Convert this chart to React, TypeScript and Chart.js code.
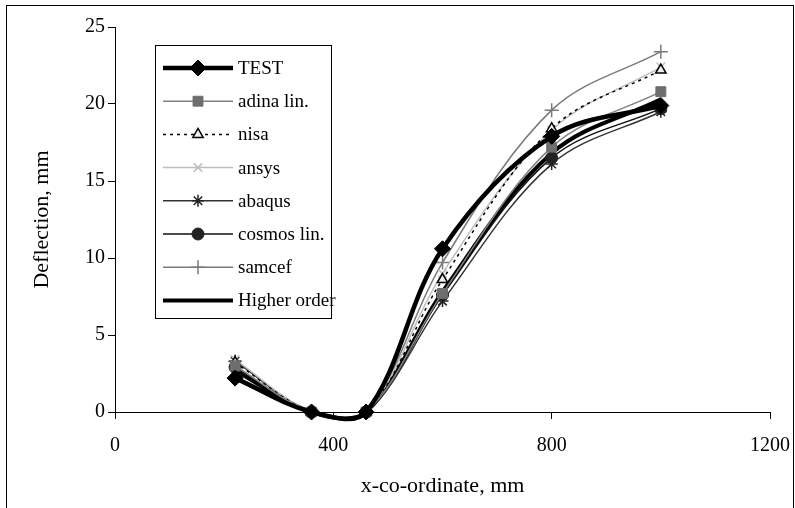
import React, { useEffect, useRef } from 'react';
import { Chart, registerables } from 'chart.js';
import { drawPoint } from 'chart.js/helpers';

Chart.register(...registerables);

// ---- data ----
const xPositions = [220, 360, 460, 600, 800, 1000];
const testValues = [2.2, 0, 0, 10.6, 17.9, 19.9];
const adinaValues = [3.0, 0, 0, 7.7, 17.2, 20.8];
const nisaValues = [3.2, 0, 0, 8.6, 18.4, 22.2];
const ansysValues = [3.4, 0, 0, 9.0, 18.3, 22.4];
const abaqusValues = [3.3, 0, 0, 7.2, 16.1, 19.5];
const cosmosValues = [2.9, 0, 0, 7.6, 16.5, 19.7];
const samcefValues = [3.3, 0, 0, 9.7, 19.6, 23.4];
const higherValues = [2.7, 0, 0, 7.8, 16.8, 20.3];

const seriesLabels = ['TEST', 'adina lin.', 'nisa', 'ansys', 'abaqus', 'cosmos lin.', 'samcef', 'Higher order'];
const seriesValues = [testValues, adinaValues, nisaValues, ansysValues, abaqusValues, cosmosValues, samcefValues, higherValues];

const xTickValues = [0, 400, 800, 1200];
const yTickValues = [0, 5, 10, 15, 20, 25];
const xTitle = 'x-co-ordinate, mm';
const yTitle = 'Deflection, mm';

const FONT = "'Liberation Serif', 'Times New Roman', serif";

// ---- styles ----
const seriesStyles: any[] = [
  { borderColor: '#000', borderWidth: 4.5, pointStyle: 'rectRot', pointRadius: 8, pointBackgroundColor: '#000', pointBorderColor: '#000', pointBorderWidth: 1 },
  { borderColor: '#808080', borderWidth: 1.5, pointStyle: 'rect', pointRadius: 7, pointBackgroundColor: '#6e6e6e', pointBorderColor: '#6e6e6e', pointBorderWidth: 1 },
  { borderColor: '#000', borderWidth: 1.5, borderDash: [3, 4], pointStyle: 'triangle', pointRadius: 6, pointBackgroundColor: '#eee', pointBorderColor: '#000', pointBorderWidth: 1.5 },
  { borderColor: '#bdbdbd', borderWidth: 1.5, pointStyle: 'crossRot', pointRadius: 6, pointBackgroundColor: '#bdbdbd', pointBorderColor: '#bdbdbd', pointBorderWidth: 1.5 },
  { borderColor: '#333', borderWidth: 1.5, pointStyle: 'star', pointRadius: 6, pointBackgroundColor: '#222', pointBorderColor: '#222', pointBorderWidth: 1.5 },
  { borderColor: '#111', borderWidth: 1.5, pointStyle: 'circle', pointRadius: 6, pointBackgroundColor: '#222', pointBorderColor: '#222', pointBorderWidth: 1 },
  { borderColor: '#7a7a7a', borderWidth: 1.5, pointStyle: 'cross', pointRadius: 7, pointBackgroundColor: '#7a7a7a', pointBorderColor: '#7a7a7a', pointBorderWidth: 1.5 },
  { borderColor: '#000', borderWidth: 4, pointStyle: 'circle', pointRadius: 0, pointBackgroundColor: '#000', pointBorderColor: '#000', pointBorderWidth: 0 },
];

const frameAndLegend = {
  id: 'frameAndLegend',
  beforeDraw(chart: any) {
    const ctx = chart.ctx;
    ctx.save();
    ctx.fillStyle = '#fff';
    ctx.fillRect(0, 0, chart.width, chart.height);
    ctx.strokeStyle = '#000';
    ctx.lineWidth = 1;
    ctx.strokeRect(6.5, 5.5, 787, 520);
    ctx.restore();
  },
  afterDatasetsDraw(chart: any) {
    const ctx = chart.ctx;
    const x0 = 155, y0 = 45, w = 176, h = 273;
    ctx.save();
    ctx.fillStyle = '#fff';
    ctx.fillRect(x0, y0, w, h);
    ctx.strokeStyle = '#000';
    ctx.lineWidth = 1;
    ctx.strokeRect(x0 + 0.5, y0 + 0.5, w, h);
    chart.data.datasets.forEach((ds: any, i: number) => {
      const y = 68 + i * 33.2;
      ctx.save();
      ctx.beginPath();
      ctx.setLineDash(ds.borderDash || []);
      ctx.lineWidth = ds.borderWidth;
      ctx.strokeStyle = ds.borderColor;
      ctx.moveTo(163, y);
      ctx.lineTo(233, y);
      ctx.stroke();
      ctx.setLineDash([]);
      if (ds.pointRadius > 0) {
        ctx.fillStyle = ds.pointBackgroundColor;
        ctx.strokeStyle = ds.pointBorderColor;
        ctx.lineWidth = ds.pointBorderWidth;
        drawPoint(ctx, { pointStyle: ds.pointStyle, radius: ds.pointRadius, rotation: 0, borderWidth: ds.pointBorderWidth } as any, 198, y);
      }
      ctx.restore();
      ctx.fillStyle = '#000';
      ctx.font = `19px ${FONT}`;
      ctx.textAlign = 'left';
      ctx.textBaseline = 'middle';
      ctx.fillText(ds.label, 238, y + 1);
    });
    ctx.restore();
  },
};

export default function App() {
  const ref = useRef<HTMLCanvasElement>(null);
  useEffect(() => {
    if (!ref.current) return;
    const datasets = seriesLabels.map((label, i) => ({
      label,
      data: xPositions.map((x, j) => ({ x, y: seriesValues[i][j] })),
      ...seriesStyles[i],
      pointHoverRadius: seriesStyles[i].pointRadius,
      tension: 0.35,
      capBezierPoints: false,
      fill: false,
      clip: false as any,
    }));
    const chart = new Chart(ref.current, {
      type: 'line',
      data: { datasets },
      options: {
        animation: false,
        responsive: false,
        devicePixelRatio: 1,
        layout: { padding: { left: 0, top: 27, right: 25, bottom: 0 } },
        plugins: { legend: { display: false }, tooltip: { enabled: false } },
        scales: {
          x: {
            type: 'linear',
            min: 0,
            max: 1200,
            afterBuildTicks: (s: any) => { s.ticks = xTickValues.map((v) => ({ value: v })); },
            afterFit: (s: any) => { s.height = 96; s.paddingRight = 0; s.paddingLeft = 0; },
            grid: { drawOnChartArea: false, drawTicks: true, tickLength: 7, color: '#000', lineWidth: 1 },
            border: { display: true, color: '#000', width: 1 },
            ticks: { color: '#000', font: { family: FONT, size: 20 }, padding: 15, maxRotation: 0, callback: (v: any) => String(v) },
            title: { display: true, text: xTitle, color: '#000', font: { family: FONT, size: 22 }, padding: { top: 0, bottom: 9 } },
          },
          y: {
            type: 'linear',
            min: 0,
            max: 25,
            afterBuildTicks: (s: any) => { s.ticks = yTickValues.map((v) => ({ value: v })); },
            afterFit: (s: any) => { s.width = 115; s.paddingTop = 0; s.paddingBottom = 0; },
            grid: { drawOnChartArea: false, drawTicks: true, tickLength: 7, color: '#000', lineWidth: 1 },
            border: { display: true, color: '#000', width: 1 },
            ticks: { color: '#000', font: { family: FONT, size: 20 }, padding: 3, callback: (v: any) => String(v) },
            title: { display: true, text: yTitle, color: '#000', font: { family: FONT, size: 22 }, padding: { top: 29, bottom: 0 } },
          },
        },
      },
      plugins: [frameAndLegend],
    });
    return () => chart.destroy();
  }, []);
  return (
    <div style={{ position: 'fixed', left: 0, top: 0, width: 795, height: 508 }}>
      <canvas ref={ref} width={795} height={508} style={{ display: 'block', width: 795, height: 508 }} />
    </div>
  );
}
